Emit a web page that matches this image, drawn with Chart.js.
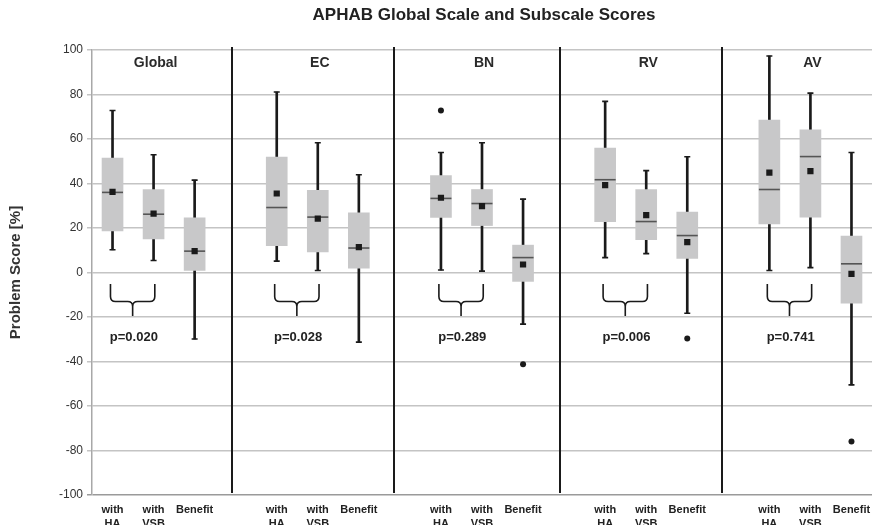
<!DOCTYPE html>
<html>
<head>
<meta charset="utf-8">
<style>
  html, body { margin: 0; padding: 0; background: #fff; }
  #wrap { width: 872px; height: 525px; }
</style>
<script src="https://cdn.jsdelivr.net/npm/chart.js@4.4.1/dist/chart.umd.min.js"></script>
</head>
<body>
<div id="wrap"><canvas id="mycanvas" width="872" height="525"></canvas></div>
<script>
// groups and their three measures
var groups = ['Global', 'EC', 'BN', 'RV', 'AV'];
var pValues = ['p=0.020', 'p=0.028', 'p=0.289', 'p=0.006', 'p=0.741'];
var measures = [['with', 'HA'], ['with', 'VSB'], 'Benefit'];

// box plot values, 15 boxes (HA, VSB, Benefit for each group)
var mins    = [10.2, 5.4, -29.9,   5.1, 0.9, -31.3,   1.1, 0.6, -23.2,   6.7, 8.5, -18.3,   0.9, 2.2, -50.5];
var q1s     = [18.7, 15.1, 0.9,    12.1, 9.2, 2.0,    24.7, 21.1, -4.0,  22.8, 14.8, 6.3,   21.8, 24.9, -13.8];
var medians = [36.0, 26.2, 9.6,    29.2, 24.9, 11.0,  33.3, 31.0, 6.7,   41.7, 22.9, 16.6,  37.3, 52.1, 3.9];
var q3s     = [51.4, 37.3, 24.6,   51.9, 36.9, 26.8,  43.6, 37.3, 12.3,  55.9, 37.3, 27.1,  68.5, 64.1, 16.4];
var maxs    = [72.8, 52.9, 41.5,   81.1, 58.3, 43.9,  53.9, 58.3, 33.0,  76.9, 45.8, 52.0,  97.3, 80.6, 53.9];
var means   = [36.2, 26.5, 9.6,    35.5, 24.2, 11.4,  33.6, 29.8, 3.6,   39.3, 25.8, 13.7,  44.9, 45.6, -0.6];
var outliers = [null, null, null,  null, null, null,  72.8, null, -41.2, null, null, -29.7, null, null, -76.0];

// where the vertical dividers sit (category index units)
var dividers = [2.9, 6.86, 10.9, 14.85];

// expand 15 boxes into 19 slots (empty slot after each group)
function slots(arr) {
	var out = [];
	for (var i = 0; i < arr.length; i++) {
		out.push(arr[i]);
		if (i % 3 == 2 && i < arr.length - 1) out.push(null);
	}
	return out;
}

var labels = [];
for (var g = 0; g < groups.length; g++) {
	for (var m = 0; m < measures.length; m++) labels.push(measures[m]);
	if (g < groups.length - 1) labels.push('');
}

var boxData = [], whiskerData = [];
for (var i = 0; i < 15; i++) {
	boxData.push([q1s[i], q3s[i]]);
	whiskerData.push([mins[i], maxs[i]]);
}

var INK = '#1a1a1a';
var FONT = '"Liberation Sans", Arial, sans-serif';

var decorPlugin = {
	id: 'decor',
	afterDraw: function(chart) {
		var ctx = chart.ctx;
		var x = chart.scales.x, y = chart.scales.y;
		var area = chart.chartArea;
		ctx.save();

		// title
		ctx.fillStyle = '#222';
		ctx.font = 'bold 17px ' + FONT;
		ctx.textAlign = 'center';
		ctx.textBaseline = 'alphabetic';
		ctx.fillText('APHAB Global Scale and Subscale Scores', 484, 20);

		// dividers
		ctx.strokeStyle = INK;
		ctx.lineWidth = 2;
		dividers.forEach(function(d) {
			var px = Math.round(x.getPixelForValue(d));
			ctx.beginPath();
			ctx.moveTo(px, area.top - 3);
			ctx.lineTo(px, area.bottom - 2);
			ctx.stroke();
		});

		for (var g = 0; g < groups.length; g++) {
			var g0 = g * 4;
			// group name
			ctx.fillStyle = '#2a2a2a';
			ctx.font = 'bold 14px ' + FONT;
			ctx.fillText(groups[g], x.getPixelForValue(g0 + 1.05), y.getPixelForValue(92.3));

			// brace under HA / VSB
			var L = x.getPixelForValue(g0 - 0.05);
			var R = x.getPixelForValue(g0 + 1.03);
			var T = x.getPixelForValue(g0 + 0.49);
			var top = y.getPixelForValue(-5.2);
			var mid = y.getPixelForValue(-13);
			var tip = y.getPixelForValue(-19.6);
			var r = 5;
			ctx.strokeStyle = INK;
			ctx.lineWidth = 1.6;
			ctx.beginPath();
			ctx.moveTo(L, top);
			ctx.lineTo(L, mid - r);
			ctx.quadraticCurveTo(L, mid, L + r, mid);
			ctx.lineTo(T - r, mid);
			ctx.quadraticCurveTo(T, mid, T, mid + r);
			ctx.lineTo(T, tip);
			ctx.moveTo(T, mid + r);
			ctx.quadraticCurveTo(T, mid, T + r, mid);
			ctx.lineTo(R - r, mid);
			ctx.quadraticCurveTo(R, mid, R, mid - r);
			ctx.lineTo(R, top);
			ctx.stroke();

			// p value
			ctx.fillStyle = '#222';
			ctx.font = 'bold 13px ' + FONT;
			ctx.fillText(pValues[g], x.getPixelForValue(g0 + 0.52), y.getPixelForValue(-31));
		}
		ctx.restore();
	}
};

var ctx = document.getElementById('mycanvas');

var chart = new Chart(ctx, {
	type: 'bar',
	data: {
		labels: labels,
		datasets: [
			{
				label: 'whisker',
				data: slots(whiskerData),
				backgroundColor: INK,
				barThickness: 2,
				grouped: false,
				order: 5
			},
			{
				label: 'box',
				data: slots(boxData),
				backgroundColor: '#c8c8c9',
				borderWidth: 0,
				barThickness: 21,
				grouped: false,
				order: 4
			},
			{
				type: 'line',
				label: 'max',
				data: slots(maxs),
				showLine: false,
				pointStyle: 'line',
				pointRadius: 3,
				pointBorderWidth: 1.6,
				pointBorderColor: INK,
				order: 3
			},
			{
				type: 'line',
				label: 'min',
				data: slots(mins),
				showLine: false,
				pointStyle: 'line',
				pointRadius: 3,
				pointBorderWidth: 1.6,
				pointBorderColor: INK,
				order: 3
			},
			{
				type: 'line',
				label: 'median',
				data: slots(medians),
				showLine: false,
				pointStyle: 'line',
				pointRadius: 10.5,
				pointBorderWidth: 1.6,
				pointBorderColor: '#555',
				order: 2
			},
			{
				type: 'line',
				label: 'mean',
				data: slots(means),
				showLine: false,
				pointStyle: 'rect',
				pointRadius: 4.4,
				pointBorderWidth: 0,
				pointBackgroundColor: INK,
				order: 1
			},
			{
				type: 'line',
				label: 'outlier',
				data: slots(outliers),
				showLine: false,
				pointStyle: 'circle',
				pointRadius: 3,
				pointBorderWidth: 0,
				pointBackgroundColor: INK,
				order: 1
			}
		]
	},
	options: {
		responsive: false,
		animation: false,
		events: [],
		layout: { autoPadding: false, padding: { top: 50, left: 7, right: -2, bottom: 0 } },
		plugins: {
			legend: { display: false },
			tooltip: { enabled: false },
			title: { display: false }
		},
		scales: {
			x: {
				grid: { display: false },
				border: { display: false },
				ticks: {
					color: '#222',
					font: { size: 11, weight: 'bold', lineHeight: 1.3 },
					padding: 0,
					maxRotation: 0,
					autoSkip: false
				},
				afterFit: function(scale) {
					scale.height = 30;
					scale.paddingLeft = 0;
					scale.paddingRight = 0;
				}
			},
			y: {
				min: -100,
				max: 100,
				ticks: {
					stepSize: 20,
					color: '#333',
					font: { size: 12 },
					padding: 4
				},
				grid: {
					color: function(c) { return c.tick && c.tick.value == -100 ? '#9a9a9a' : '#c4c4c4'; },
					lineWidth: 1.5,
					tickLength: 5
				},
				border: { color: '#a8a8a8', width: 1.5 },
				title: {
					display: true,
					text: 'Problem Score [%]',
					color: '#333',
					font: { size: 15, weight: 'bold' },
					padding: { top: 0, bottom: 0 }
				},
				afterFit: function(scale) { scale.width = 85; }
			}
		}
	},
	plugins: [decorPlugin]
});
</script>
</body>
</html>
